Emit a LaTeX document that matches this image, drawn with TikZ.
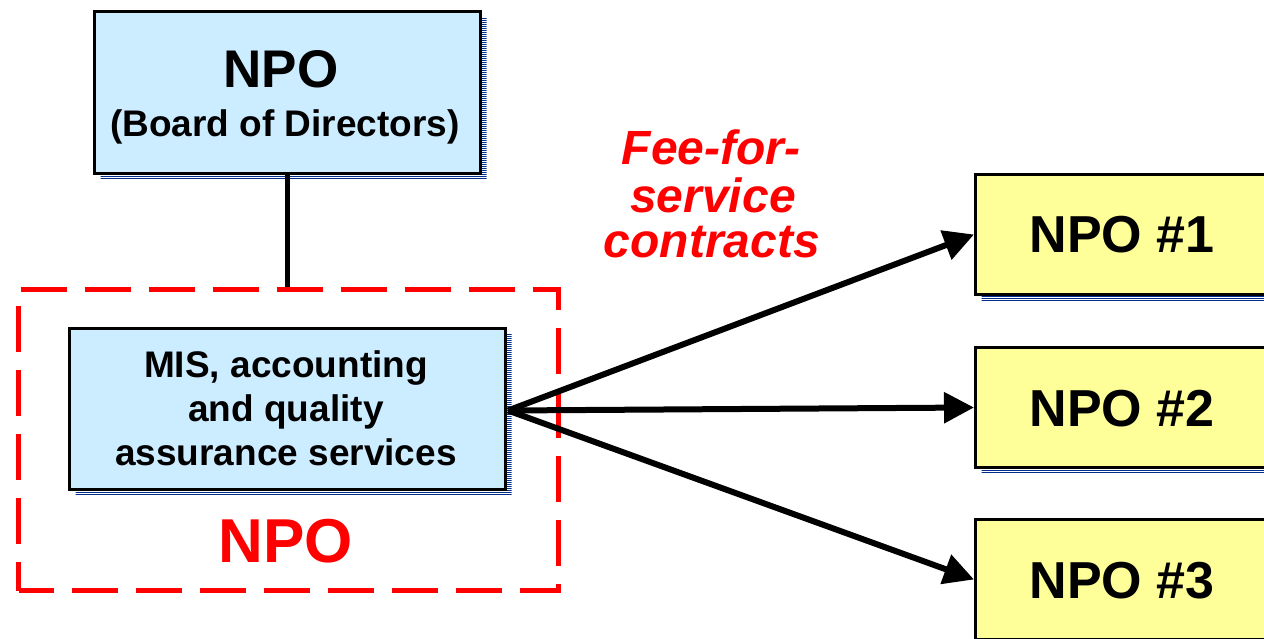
\documentclass[tikz,border=0pt]{standalone}
\usepackage{fontspec}
\setmainfont{Liberation Sans}
\usetikzlibrary{arrows.meta,patterns.meta,shadows}
\definecolor{boxblue}{HTML}{CCECFF}
\definecolor{boxyellow}{HTML}{FFFF99}
\definecolor{shadenavy}{HTML}{002E8A}
\definecolor{npored}{HTML}{FF0000}
\tikzset{
  hatchshadow/.style={general shadow={shadow xshift=6pt, shadow yshift=-6pt,
      draw=none, pattern={Lines[angle=0,distance=2pt,line width=1pt]},
      pattern color=shadenavy}},
  orgbox/.style={draw=black, line width=3pt, rectangle, inner sep=0pt,
      anchor=north west, hatchshadow},
  bluebox/.style={orgbox, fill=boxblue},
  yellowbox/.style={orgbox, fill=boxyellow},
  txt/.style={inner sep=0pt, anchor=base, font=\bfseries},
  bigtxt/.style={txt, font=\bfseries\fontsize{53}{53}\selectfont},
  midtxt/.style={txt, font=\bfseries\fontsize{37}{37}\selectfont},
  rtxt/.style={txt, font=\bfseries\fontsize{52}{52}\selectfont},
  feetxt/.style={txt, text=npored, font=\bfseries\itshape\fontsize{48}{48}\selectfont},
  contract/.style={line width=6pt, -{Triangle[length=30pt,width=30pt]}},
  link/.style={line width=5.5pt},
  dashedbox/.style={draw=npored, line width=5pt, rectangle, inner sep=0pt,
      anchor=north west, dash pattern=on 46pt off 18pt, dash phase=11pt}
}
\begin{document}
\begin{tikzpicture}[x=1pt, y=-1pt]
  \useasboundingbox[fill=white] (0,0) rectangle (1264,639);

  % governing board
  \node[bluebox, minimum width=386pt, minimum height=162pt] (board) at (93,10) {};
  \node[bigtxt] (boardtitle) at (281,88) {NPO};
  \node[midtxt] (boardsub) at (285,137) {(Board of Directors)};

  % the service organisation
  \node[dashedbox, minimum width=540pt, minimum height=301pt] (org) at (16,287) {};
  \node[bluebox, minimum width=436pt, minimum height=161pt] (mis) at (68,327) {};
  \node[midtxt] (mis1) at (286,377) {MIS, accounting};
  \node[midtxt] (mis2) at (286,421) {and quality};
  \node[midtxt] (mis3) at (286,465) {assurance services};
  \node[txt, text=npored, font=\bfseries\fontsize{62}{62}\selectfont] (orgname) at (286,562) {NPO};

  \draw[link] (board.south) -- (board.south |- org.north);

  % client organisations
  \node[yellowbox, minimum width=298pt, minimum height=120pt] (npo1) at (974,173) {};
  \node[yellowbox, minimum width=298pt, minimum height=120pt] (npo2) at (974,346) {};
  \node[yellowbox, minimum width=298pt, minimum height=120pt] (npo3) at (974,518) {};
  \node[rtxt] (npo1t) at (1122,253) {NPO \#1};
  \node[rtxt] (npo2t) at (1122,426) {NPO \#2};
  \node[rtxt] (npo3t) at (1122,598) {NPO \#3};

  % contracts
  \coordinate (hub) at ([xshift=1pt,yshift=-1.5pt]mis.east);
  \draw[contract] (hub) -- (npo1.west);
  \draw[contract] (hub) -- (npo2.west);
  \draw[contract] (hub) -- (npo3.west);

  \node[feetxt] (fee1) at (711,165) {Fee-for-};
  \node[feetxt] (fee2) at (713,213) {service};
  \node[feetxt] (fee3) at (712,258) {contracts};
\end{tikzpicture}
\end{document}
